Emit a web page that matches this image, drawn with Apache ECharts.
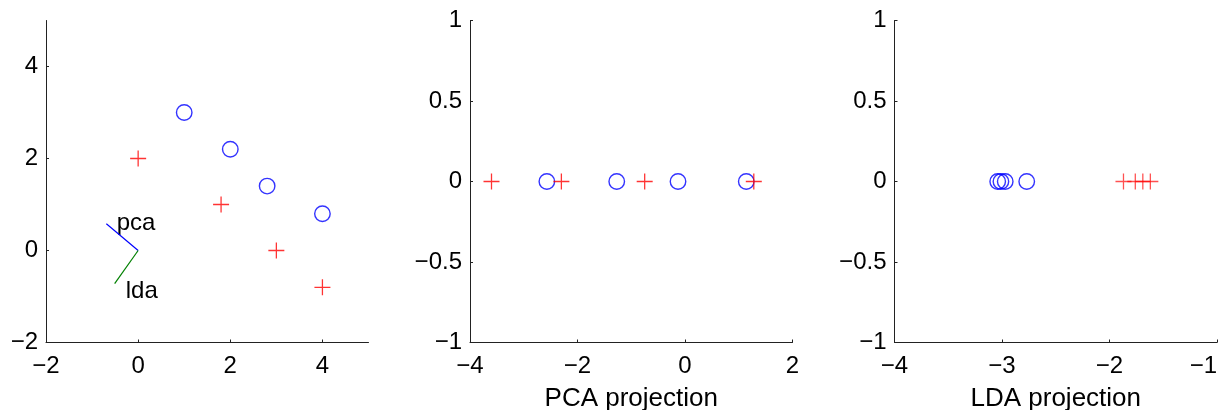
<!DOCTYPE html>
<html>
<head>
<meta charset="utf-8">
<script src="https://cdn.jsdelivr.net/npm/echarts@6/dist/echarts.min.js"></script>
<style>
html,body{margin:0;padding:0;background:#fff;}
#main{width:1222px;height:410px;}
</style>
</head>
<body>
<div id="main"></div>
<script>
// ---- data ----
// Panel 1: original 2-D data
const circlesXY = [[1, 3], [2, 2.2], [2.8, 1.4], [4, 0.8]];
const plusesXY = [[0, 2], [1.8, 1], [3, 0], [4, -0.8]];
const pcaDir = [[0, 0], [-0.69, 0.58]];
const ldaDir = [[0, 0], [-0.51, -0.72]];
const pcaText = [-0.475, 0.6];
const ldaText = [-0.28, -0.88];
// Panel 2: PCA projection
const pcaCircles = [-2.57, -1.27, -0.13, 1.14];
const pcaPluses = [-3.60, -2.30, -0.75, 1.28];
// Panel 3: LDA projection
const ldaCircles = [-3.04, -3.01, -2.97, -2.77];
const ldaPluses = [-1.87, -1.76, -1.69, -1.62];
// tick labels
const ticks1X = [-2, 0, 2, 4];
const ticks1Y = [-2, 0, 2, 4];
const ticks2X = [-4, -2, 0, 2];
const ticks3X = [-4, -3, -2, -1];
const ticksProjY = [-1, -0.5, 0, 0.5, 1];

const FONT = "'Liberation Sans', Arial, Helvetica, sans-serif";
const fmt = v => String(v).replace('-', '\u2212');
const PLUS = 'path://M-0.08,-1H0.08V-0.08H1V0.08H0.08V1H-0.08V0.08H-1V-0.08H-0.08Z';

function xAx(grid, min, max, ticks, name, alignMax) {
  return {
    type: 'value', gridIndex: grid, min: min, max: max,
    splitLine: {show: false},
    axisLine: {show: true, onZero: false, lineStyle: {color: '#222', width: 1}},
    axisTick: {show: true, inside: true, length: 3, customValues: ticks, lineStyle: {color: '#222'}},
    axisLabel: {customValues: ticks, formatter: fmt, color: '#000', fontSize: 24, fontFamily: FONT, margin: 12,
                alignMaxLabel: alignMax || null},
    name: name || '', nameLocation: 'middle', nameGap: 43,
    nameTextStyle: {color: '#000', fontSize: 26, fontFamily: FONT}
  };
}
function yAx(grid, min, max, ticks) {
  return {
    type: 'value', gridIndex: grid, min: min, max: max,
    splitLine: {show: false},
    axisLine: {show: true, onZero: false, lineStyle: {color: '#222', width: 1}},
    axisTick: {show: true, inside: true, length: 3, customValues: ticks, lineStyle: {color: '#222'}},
    axisLabel: {customValues: ticks, formatter: fmt, color: '#000', fontSize: 24, fontFamily: FONT, margin: 8, padding: [5, 0, 0, 0]}
  };
}
const circleStyle = {color: 'rgba(0,0,0,0)', borderColor: '#0000ff', borderWidth: 1.4};
const plusStyle = {color: '#ff0000'};
const gridBase = {top: 20.5, width: 322.5, height: 322, containLabel: false, outerBoundsMode: 'none'};

const option = {
  animation: false,
  backgroundColor: '#fff',
  grid: [
    Object.assign({left: 46}, gridBase),
    Object.assign({left: 470}, gridBase),
    Object.assign({left: 894.5}, gridBase)
  ],
  xAxis: [
    xAx(0, -2, 5, ticks1X),
    xAx(1, -4, 2, ticks2X, 'PCA projection'),
    xAx(2, -4, -1, ticks3X, 'LDA projection', 'right')
  ],
  yAxis: [
    yAx(0, -2, 5, ticks1Y),
    yAx(1, -1, 1, ticksProjY),
    yAx(2, -1, 1, ticksProjY)
  ],
  series: [
    {type: 'line', xAxisIndex: 0, yAxisIndex: 0, data: pcaDir, showSymbol: false, symbol: 'none',
     lineStyle: {color: '#0000ff', width: 1.2}},
    {type: 'line', xAxisIndex: 0, yAxisIndex: 0, data: ldaDir, showSymbol: false, symbol: 'none',
     lineStyle: {color: '#008000', width: 1.2}},
    {type: 'scatter', xAxisIndex: 0, yAxisIndex: 0, data: circlesXY, symbol: 'circle', symbolSize: 15.5, itemStyle: circleStyle},
    {type: 'scatter', xAxisIndex: 0, yAxisIndex: 0, data: plusesXY, symbol: PLUS, symbolSize: 16, itemStyle: plusStyle},
    {type: 'scatter', xAxisIndex: 0, yAxisIndex: 0, symbolSize: 1, silent: true,
     itemStyle: {color: '#fff', opacity: 1},
     data: [{value: pcaText, name: 'pca'}, {value: ldaText, name: 'lda'}],
     label: {show: true, position: 'right', distance: 0, formatter: p => p.name, opacity: 1,
             color: '#000', fontSize: 24, fontFamily: FONT, textBorderWidth: 0, textShadowBlur: 0}},
    {type: 'scatter', xAxisIndex: 1, yAxisIndex: 1, data: pcaCircles.map(v => [v, 0]), symbol: 'circle', symbolSize: 15.5, itemStyle: circleStyle},
    {type: 'scatter', xAxisIndex: 1, yAxisIndex: 1, data: pcaPluses.map(v => [v, 0]), symbol: PLUS, symbolSize: 16, itemStyle: plusStyle},
    {type: 'scatter', xAxisIndex: 2, yAxisIndex: 2, data: ldaCircles.map(v => [v, 0]), symbol: 'circle', symbolSize: 15.5, itemStyle: circleStyle},
    {type: 'scatter', xAxisIndex: 2, yAxisIndex: 2, data: ldaPluses.map(v => [v, 0]), symbol: PLUS, symbolSize: 16, itemStyle: {color: 'rgba(255,0,0,0.85)'}}
  ]
};
const chart = echarts.init(document.getElementById('main'), null, {renderer: 'canvas'});
chart.setOption(option);
</script>
</body>
</html>
